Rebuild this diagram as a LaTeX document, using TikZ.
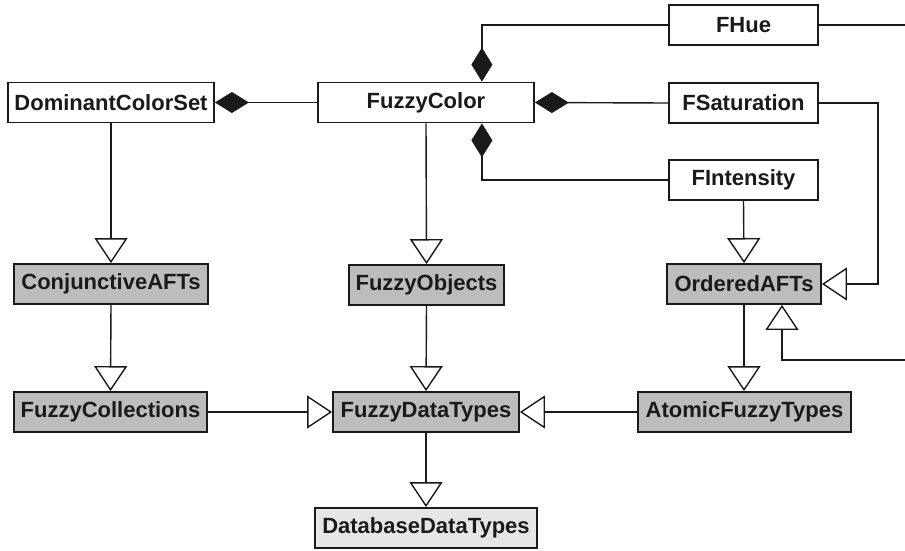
\documentclass[tikz,border=0pt]{standalone}
\usepackage{fontspec}
\setmainfont{Liberation Sans}
\usetikzlibrary{arrows.meta,calc}
\definecolor{boxgray}{HTML}{BDBDBD}
\definecolor{lightgray}{HTML}{E6E6E6}
\definecolor{ink}{HTML}{1A1A1A}
\tikzset{
  cls/.style={draw=ink, line width=1.8pt, rectangle, minimum height=40pt, inner sep=0pt,
    font=\fontsize{22}{25}\selectfont\bfseries, text=ink},
  white cls/.style={cls, fill=white},
  gray cls/.style={cls, fill=boxgray},
  light cls/.style={cls, fill=lightgray},
  conn/.style={draw=ink, line width=1.4pt},
  comp/.style={conn, {Diamond[length=34pt,width=21pt,fill=ink]}-},
  gen/.style={conn, -{Triangle[open,length=25pt,width=33pt,fill=white]}},
}
\begin{document}
\begin{tikzpicture}[x=1pt,y=-1pt]
\useasboundingbox (0,0) rectangle (905,550);

\node[white cls, minimum width=206pt] (dcs) at (111,102.5) {DominantColorSet};
\node[white cls, minimum width=216pt] (fc) at (426,102.5) {FuzzyColor};
\node[white cls, minimum width=149pt] (fhue) at (743.5,25) {FHue};
\node[white cls, minimum width=149pt] (fsat) at (743.5,103) {FSaturation};
\node[white cls, minimum width=149pt] (fint) at (743.5,180) {FIntensity};

\node[gray cls, minimum width=194pt] (caft) at (111,284) {ConjunctiveAFTs};
\node[gray cls, minimum width=155pt] (fobj) at (426.5,285) {FuzzyObjects};
\node[gray cls, minimum width=154pt] (oaft) at (744,284) {OrderedAFTs};

\node[gray cls, minimum width=193pt] (fcoll) at (110.5,412) {FuzzyCollections};
\node[gray cls, minimum width=186pt] (fdt) at (426,412) {FuzzyDataTypes};
\node[gray cls, minimum width=213pt] (aft) at (744.5,412) {AtomicFuzzyTypes};

\node[light cls, minimum width=222pt] (ddt) at (426,528) {DatabaseDataTypes};

\coordinate (hueend) at (905,25);
\coordinate (lowend) at (905,360);

% composition
\draw[comp] (dcs.east) -- (fc.west);
\draw[comp] (fc.east) -- (fsat.west);
\draw[comp] ($(fc.north east)+(-53,0)$) |- (fhue.west);
\draw[comp] ($(fc.south east)+(-53,0)$) |- (fint.west);
\draw[conn] (fhue.east) -- (hueend);

% generalisation
\draw[gen] (dcs.south) -- (caft.north);
\draw[gen] (fc.south) -- (fobj.north);
\draw[gen] (fint.south) -- (oaft.north);
\draw[gen] (fsat.east) -- ++(59,0) |- (oaft.east);
\draw[gen] (lowend) -| ($(oaft.south)+(38,0)$);
\draw[gen] (caft.south) -- (fcoll.north);
\draw[gen] (fobj.south) -- (fdt.north);
\draw[gen] (oaft.south) -- (aft.north -| oaft.south);
\draw[gen] (fcoll.east) -- (fdt.west);
\draw[gen] (aft.west) -- (fdt.east);
\draw[gen] (fdt.south) -- (ddt.north);
\end{tikzpicture}
\end{document}
